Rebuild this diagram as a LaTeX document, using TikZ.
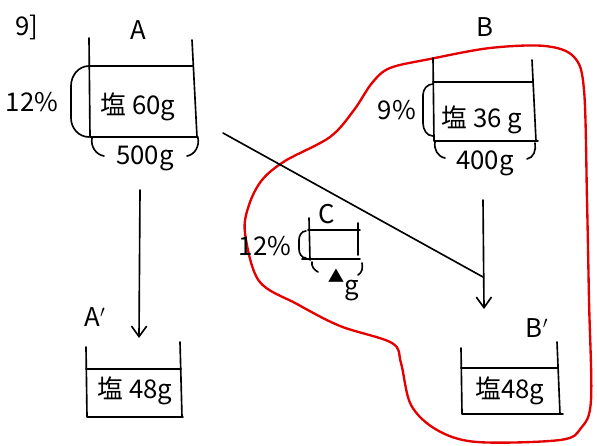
\documentclass[tikz,border=0pt]{standalone}
\usepackage{fontspec}
\setmainfont{Noto Sans CJK JP}
\usetikzlibrary{arrows.meta}
\begin{document}
\begin{tikzpicture}[x=0.03cm,y=-0.03cm,line width=1.4pt,line cap=round,line join=round,
  every node/.style={font=\fontsize{22}{26}\selectfont,inner sep=1pt},
  bound/.style={red!90!black,line width=2pt},
  flow/.style={-{Straight Barb[length=9pt,width=13pt]}}]
\useasboundingbox (0,0) rectangle (597,445);
% red loop round B, C and B'
\draw[bound] plot[smooth cycle,tension=0.55] coordinates {(245,233) (249,205) (262,180) (285,161)
  (330,137) (354,110) (372,83) (390,68) (430,59) (490,48) (545,46) (574,57) (584,90) (587,200)
  (589,300) (591,400) (581,428) (560,440) (477,442) (437,430) (411,405) (401,363) (392,343)
  (340,326) (297,304) (259,281)};
\node (qnum) at (27,27) {9]};
% A
\node (labA) at (138,30) {A};
\draw (89,38) -- (90,137) -- (198,137);
\draw (192,40) -- (197,137);
\draw (89,66) -- (193,66);
\node (saltA) at (138,107) {塩 60g};
\node (pctA) at (32,102) {12\%};
\draw (89,66) to[out=180,in=90] (71,86) -- (71,118) to[out=-90,in=180] (89,137);
\draw (92,138) to[out=-100,in=170] (104,156);
\draw (187,156) to[out=10,in=-80] (198,138);
\node (massA) at (145,158) {500g};
% B
\node (labB) at (485,27) {B};
\draw (433,58) -- (434,141) -- (538,141);
\draw (532,60) -- (536,141);
\draw (433,82) -- (533,82);
\node (saltB) at (482,120) {塩 36 g};
\node (pctB) at (397,110) {9\%};
\draw (433,84) to[out=180,in=90] (423,95) -- (423,123) to[out=-90,in=180] (433,136);
\draw (435,142) to[out=-100,in=170] (445,158);
\draw (527,159) to[out=10,in=-80] (535,143);
\node (massB) at (485,163) {400g};
% C
\node (labC) at (327,214) {C};
\draw (309,218) -- (310,260);
\draw (358,223) -- (358,255);
\draw (308,230) -- (360,230);
\draw (302,259) -- (360,259);
\node (pctC) at (265,246) {12\%};
\draw (306,231) to[out=180,in=90] (299,240) -- (299,249) to[out=-90,in=180] (306,258);
\draw (312,262) to[out=-100,in=150] (318,272);
\draw (358,275) to[out=30,in=-80] (362,263);
\node (triC) at (336,276) {\fontsize{14}{16}\selectfont ▲};
\node (massC) at (352,291) {g};
% A'
\node (labAp) at (95,317) {A$'$};
\draw (86,347) -- (87,417) -- (183,417);
\draw (180,342) -- (182,417);
\draw (86,369) -- (181,369);
\node (saltAp) at (135,391) {塩 48g};
% B'
\node (labBp) at (537,328) {B$'$};
\draw (461,348) -- (462,414) -- (563,414);
\draw (557,342) -- (560,414);
\draw (461,368) -- (558,368);
\node (saltBp) at (510,391) {塩48g};
% arrows
\coordinate (Aout) at (140,190);
\coordinate (Apin) at (139,338);
\draw[flow] (Aout) -- (Apin);
\coordinate (Bout) at (483,200);
\coordinate (Bpin) at (484,309);
\draw[flow] (Bout) -- (Bpin);
\coordinate (mixin) at (223,133);
\coordinate (mixend) at (483,277);
\draw (mixin) -- (mixend);
\end{tikzpicture}
\end{document}
